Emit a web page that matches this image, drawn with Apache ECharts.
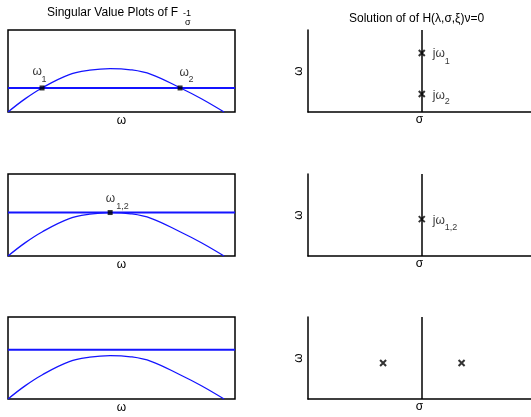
<!DOCTYPE html>
<html>
<head>
<meta charset="utf-8">
<script src="https://cdn.jsdelivr.net/npm/echarts@6.0.0/dist/echarts.min.js"></script>
<style>
html,body{margin:0;padding:0;background:#fff;}
#chart{width:531px;height:417px;}
</style>
</head>
<body>
<div id="chart"></div>
<script>
// ---- data ----
// singular value curve (normalised ω on x, magnitude on y)
const curveX = [0, 7.5, 15, 27, 36, 45, 54, 63, 76, 85, 95.2];
const curveY = [0, 16, 29.3, 45.5, 51, 53, 51.5, 46, 29.3, 16.5, 0];
// level of the horizontal line in each left panel
const hLevels = [29.3, 53, 60];
// crossing points in each left panel: [ω, level, subscript]
const leftPoints = [
  [[15, 29.3, '1'], [75.8, 29.3, '2']],
  [[45, 53, '1,2']],
  []
];
// roots in each right panel: [σ, ω, subscript]
const rightPoints = [
  [[0, 0.72, '1'], [0, 0.22, '2']],
  [[0, 0.45, '1,2']],
  [[-0.34, 0.44, ''], [0.35, 0.44, '']]
];
const leftTitle = 'Singular Value Plots of F';
const leftTitleSup = '-1';
const leftTitleSub = 'σ';
const rightTitle = 'Solution of of H(λ,σ,ξ)ν=0';

// ---- layout ----
const FONT = 'Liberation Sans, Arial, Helvetica, sans-serif';
const tops = [30, 174, 317];
const H = 82;
const BLUE = '#1414ff';

const grids = [], xAxes = [], yAxes = [], series = [];

// label offsets (pixels) for main text and subscript
const leftMainOff = [[[-9.5, -16], [-0.5, -15.5]], [[-4.5, -13.8]], []];
const leftSubOff  = [[[-0.5, -8.5], [8.5, -8]], [[6, -6.5]], []];
const rightMainOff = [[[11, 0.5], [11, 1.5]], [[11, 2]], [[0, 0], [0, 0]]];
const rightSubOff  = [[[23, 8.5], [23, 8]], [[23, 8]], [[0, 0], [0, 0]]];

function makeLabel(text, offset, fs, show) {
  return {show: show, position: 'inside', align: 'left', verticalAlign: 'middle',
    color: '#000', textBorderWidth: 0, offset: offset, formatter: text,
    fontSize: fs, fontFamily: FONT};
}

for (let i = 0; i < 3; i++) {
  // left panels
  grids.push({left: 8, width: 227, top: tops[i], height: H, show: true,
    borderColor: '#000', borderWidth: 1.5, backgroundColor: 'transparent'});
  xAxes.push({gridIndex: i, type: 'value', min: 0, max: 100,
    axisLine: {show: false}, axisTick: {show: false}, axisLabel: {show: false}, splitLine: {show: false},
    name: 'ω', nameLocation: 'middle', nameGap: 3,
    nameTextStyle: {fontSize: 12, color: '#000', fontFamily: FONT, verticalAlign: 'top'}});
  yAxes.push({gridIndex: i, type: 'value', min: 0, max: 100,
    axisLine: {show: false}, axisTick: {show: false}, axisLabel: {show: false}, splitLine: {show: false}});
  series.push({type: 'line', xAxisIndex: i, yAxisIndex: i, smooth: 0.4, symbol: 'none',
    lineStyle: {color: BLUE, width: 1.3}, data: curveX.map((x, k) => [x, curveY[k]]), z: 2, silent: true});
  series.push({type: 'line', xAxisIndex: i, yAxisIndex: i, symbol: 'none',
    lineStyle: {color: BLUE, width: 2}, data: [[0, hLevels[i]], [100, hLevels[i]]], z: 3, silent: true});
  if (leftPoints[i].length) {
    series.push({type: 'scatter', xAxisIndex: i, yAxisIndex: i, symbol: 'rect', symbolSize: 5,
      itemStyle: {color: '#000'}, z: 5, silent: true,
      data: leftPoints[i].map((p, k) => ({value: [p[0], p[1]],
        label: makeLabel('ω', leftMainOff[i][k], 12, true)}))});
    series.push({type: 'scatter', xAxisIndex: i, yAxisIndex: i, symbol: 'circle', symbolSize: 1,
      itemStyle: {color: 'rgba(0,0,0,0)'}, z: 6, silent: true,
      data: leftPoints[i].map((p, k) => ({value: [p[0], p[1]],
        label: makeLabel(p[2], leftSubOff[i][k], 9, true)}))});
  }
}

for (let i = 0; i < 3; i++) {
  const g = 3 + i;
  grids.push({left: 308, right: 0, top: tops[i], height: H});
  xAxes.push({gridIndex: g, type: 'value', min: -1, max: 0.96,
    axisLine: {show: true, onZero: false, lineStyle: {color: '#000', width: 1.5}},
    axisTick: {show: false}, axisLabel: {show: false}, splitLine: {show: false},
    name: 'σ', nameLocation: 'middle', nameGap: 2,
    nameTextStyle: {fontSize: 12, color: '#000', fontFamily: FONT, verticalAlign: 'top'}});
  yAxes.push({gridIndex: g, type: 'value', min: 0, max: 1,
    axisLine: {show: true, onZero: false, lineStyle: {color: '#000', width: 1.5}},
    axisTick: {show: false}, axisLabel: {show: false}, splitLine: {show: false},
    name: 'ω', nameLocation: 'middle', nameRotate: 90, nameGap: 3,
    nameTextStyle: {fontSize: 12, color: '#000', fontFamily: FONT}});
  series.push({type: 'scatter', xAxisIndex: g, yAxisIndex: g,
    symbol: 'path://M0,0L10,10M10,0L0,10', symbolSize: 6,
    itemStyle: {color: 'none', borderColor: '#000', borderWidth: 2}, z: 5, silent: true,
    data: rightPoints[i].map((p, k) => ({value: [p[0], p[1]],
      label: makeLabel('jω', rightMainOff[i][k], 12, p[2] !== '')})),
    markLine: {silent: true, symbol: 'none', label: {show: false},
      lineStyle: {color: '#000', width: 1.5, type: 'solid'}, data: [{xAxis: 0}]}});
  series.push({type: 'scatter', xAxisIndex: g, yAxisIndex: g, symbol: 'circle', symbolSize: 1,
    itemStyle: {color: 'rgba(0,0,0,0)'}, z: 6, silent: true,
    data: rightPoints[i].map((p, k) => ({value: [p[0], p[1]],
      label: makeLabel(p[2], rightSubOff[i][k], 9, p[2] !== '')}))});
}

const chart = echarts.init(document.getElementById('chart'), null, {renderer: 'canvas'});
const tStyle = (fs) => ({fontSize: fs, fontWeight: 'normal', color: '#000', fontFamily: FONT});
chart.setOption({
  animation: false,
  backgroundColor: '#fff',
  title: [
    {text: leftTitle, left: 42, top: 2, textStyle: tStyle(12)},
    {text: leftTitleSup, left: 178, top: 4.5, textStyle: tStyle(9)},
    {text: leftTitleSub, left: 180, top: 13, textStyle: tStyle(9)},
    {text: rightTitle, left: 344, top: 7.5, textStyle: tStyle(12)}
  ],
  grid: grids, xAxis: xAxes, yAxis: yAxes, series: series
});
</script>
</body>
</html>
